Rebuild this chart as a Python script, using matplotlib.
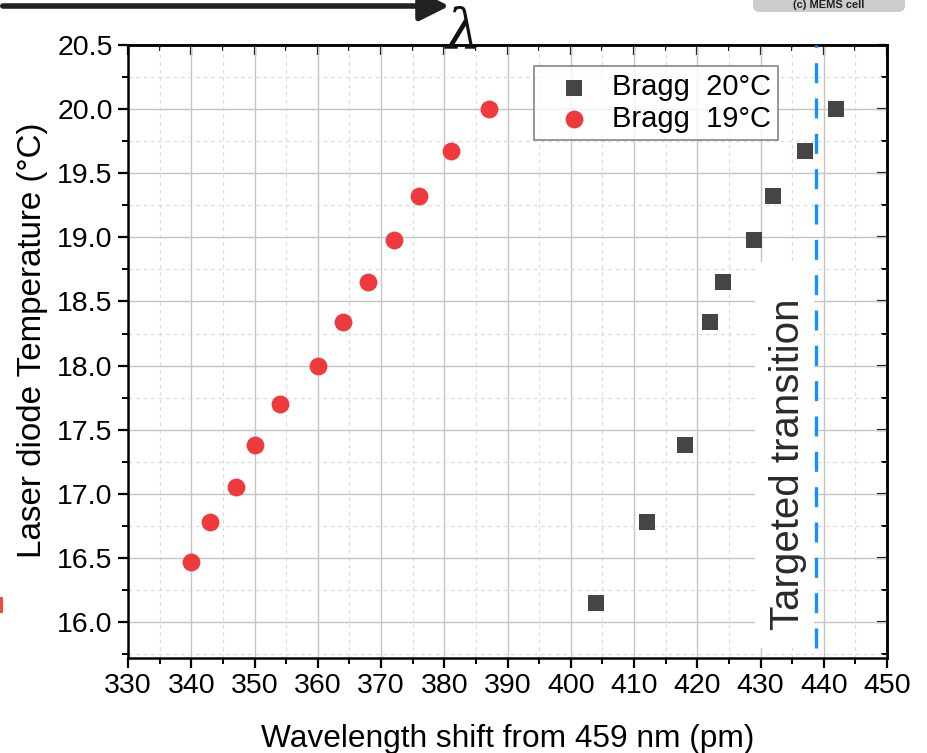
import matplotlib
matplotlib.use("Agg")
import matplotlib.pyplot as plt
from matplotlib.ticker import MultipleLocator, FormatStrFormatter
from matplotlib.patches import FancyBboxPatch, FancyArrowPatch, Rectangle

plt.rcParams['font.family'] = ['Liberation Sans', 'DejaVu Sans']

# Data
x_19 = [340, 343, 347, 350, 354, 360, 364, 368, 372, 376, 381, 387]
t_19 = [16.47, 16.78, 17.05, 17.38, 17.70, 18.00, 18.34, 18.65, 18.98, 19.32, 19.67, 20.00]
x_20 = [404, 412, 418, 422, 424, 429, 432, 437, 442]
t_20 = [16.15, 16.78, 17.38, 18.34, 18.65, 18.98, 19.32, 19.67, 20.00]
target_x = 438.8
label_20 = "Bragg  20°C"
label_19 = "Bragg  19°C"
xlabel = "Wavelength shift from 459 nm (pm)"
ylabel = "Laser diode Temperature (°C)"

fig = plt.figure(figsize=(9.28, 7.53), dpi=100)
ax = fig.add_axes([128/928, 1-658/753, (887-128)/928, (658-45)/753])

ax.set_xlim(330, 450)
ax.set_ylim(15.72, 20.5)
ax.xaxis.set_major_locator(MultipleLocator(10))
ax.xaxis.set_minor_locator(MultipleLocator(5))
ax.yaxis.set_major_locator(MultipleLocator(0.5))
ax.yaxis.set_minor_locator(MultipleLocator(0.25))
ax.yaxis.set_major_formatter(FormatStrFormatter('%.1f'))

ax.grid(which='major', color='#c4c4c4', lw=1.0, ls='-')
ax.grid(which='minor', color='#dcdcdc', lw=0.9, ls=(0, (3, 3)))
ax.set_axisbelow(True)

for s in ax.spines.values():
    s.set_linewidth(1.8)
    s.set_color('black')

ax.tick_params(axis='both', which='major', direction='out', length=7, width=1.6,
               labelsize=20.5, pad=4, colors='black')
ax.tick_params(axis='both', which='minor', direction='out', length=4, width=1.4)
axt = ax.secondary_xaxis('top')
axt.xaxis.set_major_locator(MultipleLocator(10))
axt.xaxis.set_minor_locator(MultipleLocator(5))
axt.tick_params(which='major', direction='in', length=7, width=1.6, labeltop=False)
axt.tick_params(which='minor', direction='in', length=4, width=1.4)
axt.spines['top'].set_linewidth(1.8)
axr = ax.secondary_yaxis('right')
axr.yaxis.set_major_locator(MultipleLocator(0.5))
axr.yaxis.set_minor_locator(MultipleLocator(0.25))
axr.tick_params(which='major', direction='in', length=7, width=1.6, labelright=False)
axr.tick_params(which='minor', direction='in', length=4, width=1.4)
axr.spines['right'].set_linewidth(1.8)

ax.set_xlabel(xlabel, fontsize=22.8, labelpad=18)
ax.set_ylabel(ylabel, fontsize=23.9)
ax.yaxis.set_label_coords(-0.106, 0.519)

# target line
ln, = ax.plot([target_x, target_x], [15.8, 20.5], color='#1590ff', lw=2.4, zorder=3,
              clip_on=False)
ln.set_dashes((6.0, 4.6))

# white backing panel for the label
ax.add_patch(Rectangle((429.1, 15.8), 438.5 - 429.1, 18.81 - 15.8, fc='white', ec='none',
                       zorder=2.5))
ax.text(434.4, 15.94, "Targeted transition", rotation=90, fontsize=29, color='#2a2a2a',
        ha='center', va='bottom', zorder=4)

ax.scatter(x_20, t_20, marker='s', s=135, color='#454545', label=label_20, zorder=5,
           linewidths=0)
ax.scatter(x_19, t_19, marker='o', s=165, color='#ee3a3d', label=label_19, zorder=5,
           linewidths=0)

leg = ax.legend(loc='upper right', fontsize=21, frameon=True, fancybox=False,
                edgecolor='#666666', borderpad=0.25, handletextpad=0.2, labelspacing=0.12,
                handlelength=2.2, borderaxespad=0)
leg.set_bbox_to_anchor((778/928, 1-66/753), transform=fig.transFigure)
leg.get_frame().set_linewidth(1.2)

# cropped decorations from the original figure
fig.add_artist(FancyArrowPatch((0, 1-6/753), (452/928, 1-6/753),
               transform=fig.transFigure, arrowstyle='-|>,head_length=6,head_width=3',
               mutation_scale=3, lw=4, color='#222222'))
fig.text(463/928, 1-33/753, "λ", fontsize=40, ha='center', va='center',
         family=['DejaVu Serif'], style='italic', color='#111111')
box = FancyBboxPatch((753/928, 1-12/753), 152/928, 30/753, transform=fig.transFigure,
                     boxstyle='round,pad=0,rounding_size=0.008', fc='#cccccc', ec='none')
fig.add_artist(box)
fig.text(829/928, 1.0, "(c) MEMS cell", fontsize=8, ha='center', va='top',
         weight='bold', color='#222222')
fig.add_artist(Rectangle((0, 1-613/753), 3/928, 16/753,
               transform=fig.transFigure, fc='#ff4444', ec='none'))

fig.savefig("out.png", dpi=100)
